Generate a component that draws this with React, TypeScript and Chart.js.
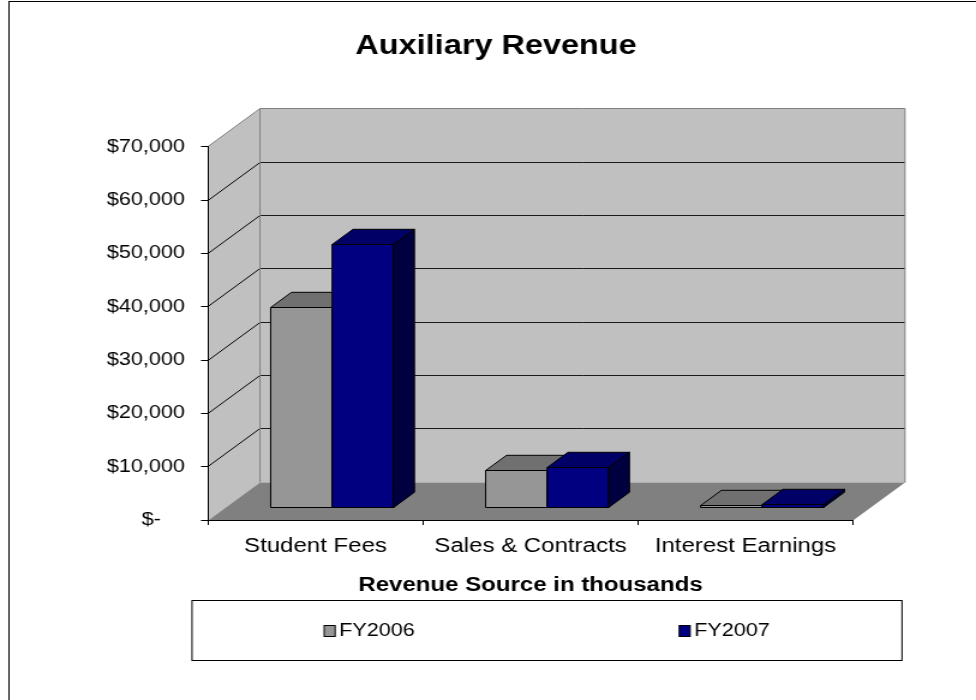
import React, { useEffect, useRef } from 'react';
import { Chart, registerables } from 'chart.js';

Chart.register(...registerables);

// ---- data ----
const categories = ['Student Fees', 'Sales & Contracts', 'Interest Earnings'];
const seriesNames = ['FY2006', 'FY2007'];
const fy2006 = [37500, 7000, 400];
const fy2007 = [49300, 7600, 700];
const yMin = 0;
const yMax = 70000;
const yStep = 10000;
const chartTitle = 'Auxiliary Revenue';
const xAxisTitle = 'Revenue Source in thousands';

// ---- style / layout ----
const FONT = "'Liberation Sans', Arial, Helvetica, sans-serif";
const VIEW_W = 976;
const VIEW_H = 700;
const CW = Math.round(VIEW_W / 1.2); // canvas drawing width, stretched to VIEW_W
const SX = VIEW_W / CW;
const X = (v: number) => v / SX;

const frontColors = ['#969696', '#000080'];
const topColors = ['#707070', '#000066'];
const sideColors = ['#505050', '#000040'];

const DX = X(52); // depth offset of the walls
const DY = 38;
const D0 = 0.32; // bar front depth fraction
const D1 = 0.72; // bar back depth fraction

const PAD_L = 2 * X(496) - CW; // shifts the title centre
const RIGHT_W = CW - X(853);
const Y_AXIS_W = X(208) - PAD_L;

function poly(ctx: CanvasRenderingContext2D, pts: number[][], fill?: string, stroke?: string) {
  ctx.beginPath();
  ctx.moveTo(pts[0][0], pts[0][1]);
  for (let i = 1; i < pts.length; i++) ctx.lineTo(pts[i][0], pts[i][1]);
  ctx.closePath();
  if (fill) {
    ctx.fillStyle = fill;
    ctx.fill();
  }
  if (stroke) {
    ctx.strokeStyle = stroke;
    ctx.lineWidth = 1;
    ctx.stroke();
  }
}

function line(ctx: CanvasRenderingContext2D, x1: number, y1: number, x2: number, y2: number, color: string) {
  ctx.beginPath();
  ctx.moveTo(x1, y1);
  ctx.lineTo(x2, y2);
  ctx.strokeStyle = color;
  ctx.lineWidth = 1;
  ctx.stroke();
}

const crisp = (v: number) => Math.round(v - 0.5) + 0.5;

const depthPlugin = {
  id: 'depth3d',
  beforeDraw(chart: any) {
    const { ctx, chartArea: a, scales } = chart;
    const y = scales.y;
    ctx.save();
    ctx.fillStyle = '#ffffff';
    ctx.fillRect(0, 0, chart.width, chart.height);
    // outer frame
    ctx.strokeStyle = '#000';
    ctx.lineWidth = 1;
    ctx.strokeRect(X(9), 1.5, chart.width + 20, chart.height + 20);

    const L = a.left, R = a.right, T = crisp(a.top), B = crisp(a.bottom);
    // side wall
    poly(ctx, [[L, B], [L, T], [L + DX, T - DY], [L + DX, B - DY]], '#C0C0C0');
    // back wall
    poly(ctx, [[L + DX, T - DY], [R + DX, T - DY], [R + DX, B - DY], [L + DX, B - DY]], '#C0C0C0');
    // floor
    poly(ctx, [[L, B], [R, B], [R + DX, B - DY], [L + DX, B - DY]], '#808080');

    // grid lines from the value scale's ticks
    const vals = y.ticks.map((t: any) => t.value).filter((v: number) => v > yMin && v < yMax);
    for (const v of vals) {
      const py = crisp(y.getPixelForValue(v));
      line(ctx, L, py, L + DX, py - DY, '#000');
      line(ctx, L + DX, py - DY, R + DX, py - DY, '#1a1a1a');
    }
    // wall borders
    line(ctx, L, T, L + DX, T - DY, '#808080');
    line(ctx, L + DX, T - DY, R + DX, T - DY, '#808080');
    line(ctx, L + DX, T - DY, L + DX, B - DY, '#808080');
    line(ctx, R + DX, T - DY, R + DX, B - DY, '#808080');
    ctx.restore();
  },
  beforeDatasetsDraw(chart: any) {
    const ctx = chart.ctx;
    ctx.save();
    const nDs = chart.data.datasets.length;
    const ddx = DX * (D1 - D0);
    const ddy = DY * (D1 - D0);
    for (let i = 0; i < chart.data.labels.length; i++) {
      for (let d = 0; d < nDs; d++) {
        const el = chart.getDatasetMeta(d).data[i];
        if (!el) continue;
        const { x, y, base, width } = el.getProps(['x', 'y', 'base', 'width'], true);
        const x0 = x - width / 2 + DX * D0;
        const x1 = x + width / 2 + DX * D0;
        const yt = crisp(y - DY * D0);
        const yb = crisp(base - DY * D0);
        poly(ctx, [[x0, yt], [x1, yt], [x1, yb], [x0, yb]], frontColors[d], '#000');
        poly(ctx, [[x0, yt], [x0 + ddx, yt - ddy], [x1 + ddx, yt - ddy], [x1, yt]], topColors[d], '#000');
        poly(ctx, [[x1, yt], [x1 + ddx, yt - ddy], [x1 + ddx, yb - ddy], [x1, yb]], sideColors[d], '#000');
      }
    }
    ctx.restore();
    return false;
  },
  afterDraw(chart: any) {
    const ctx = chart.ctx;
    ctx.save();
    const lx = X(192), rx = X(902), ty = 600.5, by = 660.5;
    ctx.strokeStyle = '#000';
    ctx.lineWidth = 1;
    ctx.strokeRect(lx, ty, rx - lx, by - ty);
    ctx.font = `18px ${FONT}`;
    ctx.textBaseline = 'middle';
    ctx.textAlign = 'left';
    const ds = chart.data.datasets;
    const n = ds.length;
    const cy = 631;
    const sqW = X(11), sqH = 11, gap = X(4);
    ds.forEach((s: any, d: number) => {
      const cx = lx + ((2 * d + 1) * (rx - lx)) / (2 * n);
      const tw = ctx.measureText(s.label).width;
      const sx = cx - (sqW + gap + tw) / 2;
      ctx.fillStyle = s.backgroundColor;
      ctx.fillRect(sx, cy - sqH / 2, sqW, sqH);
      ctx.strokeStyle = '#000';
      ctx.strokeRect(sx, cy - sqH / 2, sqW, sqH);
      ctx.fillStyle = '#000';
      ctx.fillText(s.label, sx + sqW + gap, cy);
    });
    ctx.restore();
  },
};

export default function App() {
  const ref = useRef<HTMLCanvasElement>(null);
  useEffect(() => {
    if (!ref.current) return;
    const chart = new Chart(ref.current, {
      type: 'bar',
      data: {
        labels: categories,
        datasets: [
          { label: seriesNames[0], data: fy2006, backgroundColor: frontColors[0] },
          { label: seriesNames[1], data: fy2007, backgroundColor: frontColors[1] },
        ],
      },
      options: {
        responsive: false,
        animation: false,
        devicePixelRatio: 1,
        events: [],
        layout: { padding: { left: PAD_L, right: 0, top: 0, bottom: 0 } },
        datasets: { bar: { categoryPercentage: 0.572, barPercentage: 1 } },
        plugins: {
          legend: { display: false },
          tooltip: { enabled: false },
          title: {
            display: true,
            text: chartTitle,
            color: '#000',
            font: { family: FONT, size: 27, weight: 'bold' },
            padding: { top: 30.3, bottom: 84.0 },
          },
        },
        scales: {
          x: {
            type: 'category',
            offset: true,
            grid: { display: true, drawOnChartArea: false, drawTicks: true, tickLength: 5, color: '#000', offset: true },
            border: { display: true, color: '#000', width: 1 },
            ticks: { color: '#000', font: { family: FONT, size: 20 }, padding: 9.4, maxRotation: 0, autoSkip: false },
            title: {
              display: true,
              text: xAxisTitle,
              color: '#000',
              font: { family: FONT, size: 20, weight: 'bold' },
              padding: { top: 4, bottom: 103 },
            },
            afterFit: (s: any) => {
              s.height = VIEW_H - 520;
            },
          },
          y: {
            position: 'left',
            min: yMin,
            max: yMax,
            ticks: {
              stepSize: yStep,
              color: '#000',
              font: { family: FONT, size: 18 },
              padding: X(208) - X(7) - X(185),
              callback: (v: any) => (Number(v) === 0 ? '$-    ' : '$' + Number(v).toLocaleString('en-US')),
            },
            grid: { display: true, drawOnChartArea: false, drawTicks: true, tickLength: X(7), color: '#000' },
            border: { display: true, color: '#000', width: 1 },
            afterFit: (s: any) => {
              s.width = Y_AXIS_W;
            },
          },
          yRightSpace: {
            type: 'linear',
            position: 'right',
            display: true,
            min: yMin,
            max: yMax,
            ticks: { display: false },
            grid: { display: false, drawTicks: false },
            border: { display: false },
            afterFit: (s: any) => {
              s.width = RIGHT_W;
            },
          },
        },
      } as any,
      plugins: [depthPlugin as any],
    });
    return () => chart.destroy();
  }, []);
  return (
    <div style={{ position: 'absolute', left: 0, top: 0, width: VIEW_W, height: VIEW_H }}>
      <canvas
        ref={ref}
        width={CW}
        height={VIEW_H}
        style={{ width: VIEW_W + 'px', height: VIEW_H + 'px', display: 'block' }}
      />
    </div>
  );
}
